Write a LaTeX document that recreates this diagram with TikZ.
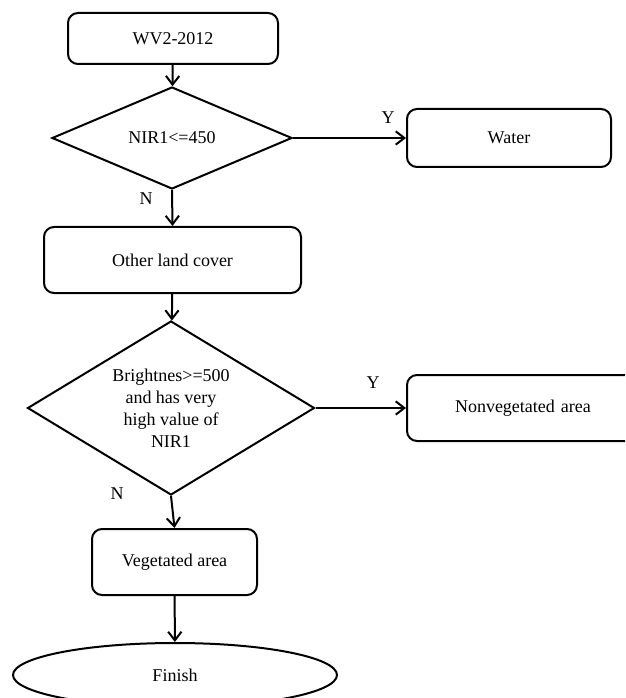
\documentclass[tikz,border=0pt]{standalone}
\usepackage{fontspec}
\setmainfont{Liberation Serif}
\usetikzlibrary{shapes.geometric,arrows.meta}
\begin{document}
\begin{tikzpicture}[x=0.75pt,y=-0.75pt,line width=1.5pt,
  >={Straight Barb[length=6.5pt,width=10pt]},
  font=\fontsize{13.5}{16.5}\selectfont,
  box/.style={draw,rounded corners=7.5pt,minimum height=49.5pt},
  test/.style={draw,diamond,inner sep=0pt,align=center},
  stop/.style={draw,ellipse}]
  \useasboundingbox (0,0) rectangle (625,698);
  \clip (0,0) rectangle (625,698);
  \node (start) [box,minimum width=157.5pt,minimum height=38.25pt] at (173,38.5) {WV2-2012};
  \node (t1) [test,minimum width=180pt,minimum height=76.5pt,aspect=2] at (172,138) {NIR1<=450};
  \node (water) [box,minimum width=153pt,minimum height=43.5pt] at (509,138) {Water};
  \node (other) [box,minimum width=192.75pt] at (172.5,260) {Other land cover};
  \node (t2) [test,minimum width=215.25pt,minimum height=130.5pt,aspect=1.65] at (171,408)
    {Brightnes>=500\\and has very\\high value of\\NIR1};
  \node (nonveg) [box,anchor=west,text width=118.5pt,inner xsep=36pt,align=left] at (406,408) {Nonvegetated area};
  \node (veg) [box,minimum width=123.75pt] at (174.5,562) {Vegetated area};
  \node (finish) [stop,minimum width=243pt,minimum height=48pt] at (175,675) {Finish};
  \draw [->] (start) -- (t1);
  \draw [->] (t1.east) -- (water.west);
  \draw [->] (t1.south) -- (other.north);
  \draw [->] (other) -- (t2);
  \draw [->] (t2.east) -- (nonveg.west);
  \draw [->] (t2.south) -- (veg.north);
  \draw [->] (veg) -- (finish);
  \node (y1) at (388,118) {Y};
  \node (n1) at (146,199) {N};
  \node (y2) at (373,383) {Y};
  \node (n2) at (117,494) {N};
\end{tikzpicture}
\end{document}
